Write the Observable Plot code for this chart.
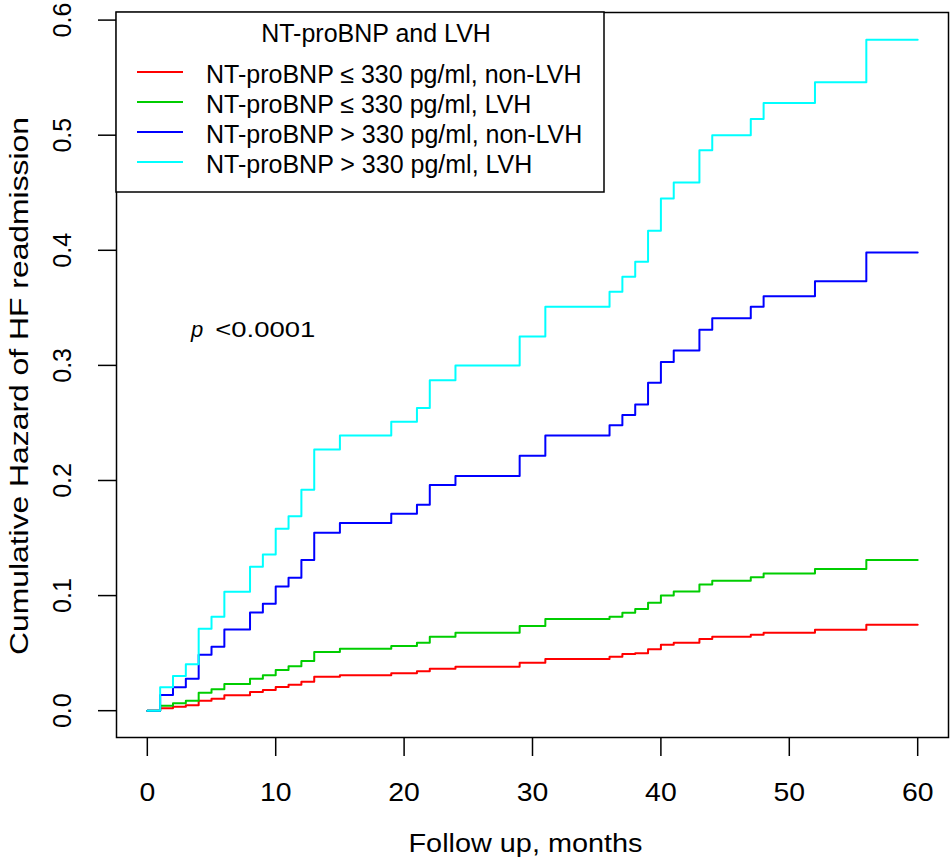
<!DOCTYPE html>
<html>
<head>
<meta charset="utf-8">
<script src="https://cdn.jsdelivr.net/npm/d3@7"></script>
<script src="https://cdn.jsdelivr.net/npm/@observablehq/plot@0.6"></script>
<style>
  html, body { margin: 0; padding: 0; background: white; }
  #chart { position: relative; width: 950px; height: 862px; }
</style>
</head>
<body>
<div id="chart"></div>
<script>
// ---- data ----
const times = [0,1,2,3,4,5,6,8,9,10,11,12,13,15,19,21,22,24,29,31,36,37,38,39,40,41,43,44,47,48,52,56,60];

const redValues   = [0,0.0021,0.0035,0.0047,0.0087,0.0104,0.0134,0.0162,0.018,0.0206,0.0226,0.0252,0.0295,0.0307,0.0325,0.0342,0.0364,0.0382,0.0417,0.0449,0.0469,0.0492,0.0498,0.0533,0.0573,0.059,0.0622,0.0642,0.066,0.0677,0.0703,0.0746,0.0746];
const greenValues = [0,0.0043,0.0064,0.0087,0.0156,0.0186,0.0232,0.0278,0.0307,0.0353,0.0385,0.0431,0.051,0.0538,0.0561,0.059,0.0642,0.0677,0.0735,0.0796,0.0816,0.085,0.0883,0.0937,0.1001,0.1036,0.1097,0.1128,0.116,0.1192,0.123,0.131,0.131];
const blueValues  = [0,0.0136,0.0203,0.0278,0.0486,0.0555,0.0706,0.0854,0.0929,0.108,0.1154,0.131,0.1545,0.163,0.171,0.179,0.196,0.204,0.2216,0.239,0.248,0.257,0.266,0.285,0.303,0.313,0.331,0.341,0.351,0.36,0.373,0.398,0.398];
const cyanValues  = [0,0.0203,0.0301,0.0403,0.0712,0.0816,0.1033,0.125,0.1357,0.158,0.169,0.192,0.227,0.239,0.251,0.263,0.287,0.300,0.325,0.351,0.364,0.377,0.390,0.417,0.445,0.459,0.487,0.500,0.514,0.528,0.546,0.583,0.583];

const seriesNames = [
  "NT-proBNP \u2264 330 pg/ml, non-LVH",
  "NT-proBNP \u2264 330 pg/ml, LVH",
  "NT-proBNP > 330 pg/ml, non-LVH",
  "NT-proBNP > 330 pg/ml, LVH"
];
const seriesColors = ["#FF0000", "#00CD00", "#0000FF", "#00FFFF"];
const seriesValues = [redValues, greenValues, blueValues, cyanValues];

const xTicks = [0, 10, 20, 30, 40, 50, 60];
const yTicks = [0, 0.1, 0.2, 0.3, 0.4, 0.5, 0.6];
const xTitle = "Follow up, months";
const yTitle = "Cumulative Hazard of HF readmission";
const legendTitle = "NT-proBNP and LVH";
const pItalic = "p";
const pRest = "<0.0001";
const pAnnot = {x: 3.4, y: 0.3246};

// ---- build table ----
const rows = [];
seriesValues.forEach((vals, s) => {
  times.forEach((t, i) => rows.push({t, v: vals[i], series: seriesNames[s]}));
});

const FONT = "'Liberation Sans', Arial, Helvetica, sans-serif";

const chart = Plot.plot({
  width: 950,
  height: 862,
  marginLeft: 116,
  marginRight: 2,
  marginTop: 12,
  marginBottom: 125,
  style: {fontFamily: FONT, fontSize: "25px", background: "white", color: "black"},
  x: {domain: [-2.4, 62.4]},
  y: {domain: [-0.0233, 0.6066]},
  color: {domain: seriesNames, range: seriesColors},
  marks: [
    Plot.frame({stroke: "black", strokeWidth: 1.5}),
    Plot.axisX({ticks: xTicks, tickSize: 19, tickFormat: () => "", label: null, strokeWidth: 1.5}),
    Plot.axisY({ticks: yTicks, tickSize: 18, tickFormat: () => "", label: null, strokeWidth: 1.5}),
    Plot.text(xTicks, {x: d => d, text: d => String(d), frameAnchor: "bottom", dy: 63.4,
      lineAnchor: "bottom", fontSize: 25, className: "xlab"}),
    Plot.text(yTicks, {y: d => d, text: d => d.toFixed(1), frameAnchor: "left", dx: -54, rotate: -90,
      textAnchor: "middle", lineAnchor: "middle", fontSize: 25}),
    Plot.text([yTitle], {text: d => d, frameAnchor: "left", dx: -97, dy: 11, rotate: -90,
      textAnchor: "middle", lineAnchor: "middle", fontSize: 26, className: "ytitle"}),
    Plot.text([xTitle], {text: d => d, frameAnchor: "bottom", dx: -7, dy: 114.4, lineAnchor: "bottom",
      fontSize: 25.5, className: "xtitle"}),
    Plot.line(rows, {x: "t", y: "v", z: "series", stroke: "series", curve: "step-after", strokeWidth: 2}),
    Plot.text([pItalic], {x: () => pAnnot.x, y: () => pAnnot.y, text: d => d, textAnchor: "start",
      lineAnchor: "bottom", fontStyle: "italic", fontSize: 22}),
    Plot.text([pRest], {x: () => pAnnot.x, y: () => pAnnot.y, text: d => d, textAnchor: "start",
      lineAnchor: "bottom", dx: 24.3, fontSize: 22, className: "prest"})
  ]
});

document.getElementById("chart").appendChild(chart);

// widen axis texts to match the reference's wide rendering
const svg = d3.select(chart);
svg.selectAll(".xlab text").each(function() {
  const n = this.textContent.length;
  d3.select(this).attr("textLength", n * 15.8).attr("lengthAdjust", "spacingAndGlyphs");
});
svg.selectAll(".xtitle text").attr("textLength", 234).attr("lengthAdjust", "spacingAndGlyphs");
svg.selectAll(".ytitle text").attr("textLength", 538).attr("lengthAdjust", "spacingAndGlyphs");
svg.selectAll(".prest text").attr("textLength", 100).attr("lengthAdjust", "spacingAndGlyphs");

// ---- legend ----
const lg = svg.append("g").attr("font-family", FONT).attr("font-size", 25).attr("text-anchor", "start");
lg.append("rect").attr("x", 116).attr("y", 12).attr("width", 488).attr("height", 180)
  .attr("fill", "white").attr("stroke", "black").attr("stroke-width", 1.5);
lg.append("text").attr("x", 376).attr("y", 42).attr("text-anchor", "middle").text(legendTitle);
seriesNames.forEach((name, i) => {
  const yb = 83 + i * 30;
  lg.append("line").attr("x1", 137).attr("x2", 183).attr("y1", yb - 11).attr("y2", yb - 11)
    .attr("stroke", seriesColors[i]).attr("stroke-width", 2);
  lg.append("text").attr("x", 206).attr("y", yb).attr("text-anchor", "start").text(name);
});
</script>
</body>
</html>
